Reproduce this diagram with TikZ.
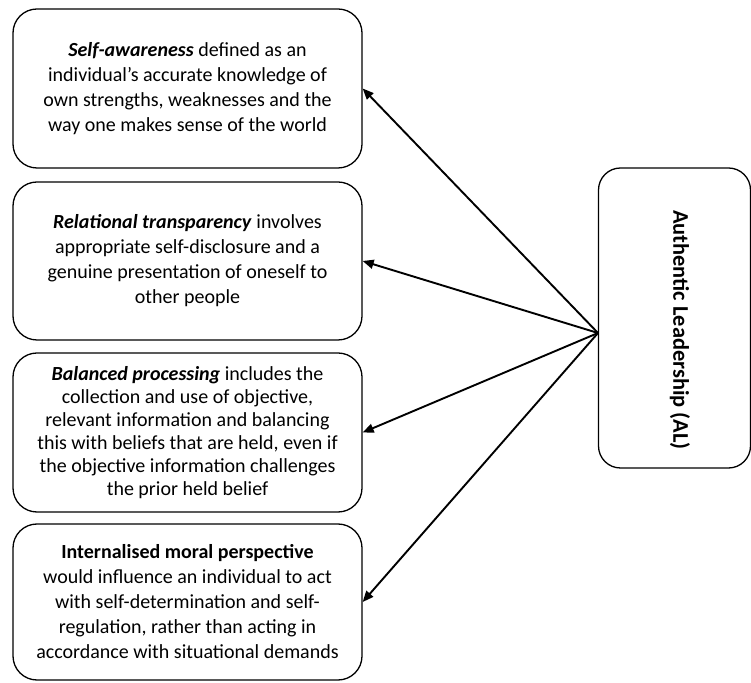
\documentclass[tikz,border=0pt]{standalone}
\usepackage{fontspec}
\setmainfont{Carlito}
\usetikzlibrary{arrows.meta}
\begin{document}
\begin{tikzpicture}[x=1pt,y=1pt,
  defbox/.style={draw, line width=1.3pt, rounded corners=24pt, minimum width=349pt, inner sep=0pt, align=center, font=\fontsize{20}{25}\selectfont},
  link/.style={line width=1.9pt, -{Triangle[length=11pt,width=9pt]}}]
\useasboundingbox (0,0) rectangle (751,682);
\node[defbox, minimum height=159pt] (b1) at (187.5,593.5) {\textbf{\textit{Self-awareness}} defined as an\\individual’s accurate knowledge of\\own strengths, weaknesses and the\\way one makes sense of the world};
\node[defbox, minimum height=158pt] (b2) at (187.5,421) {\textbf{\textit{Relational transparency}} involves\\appropriate self-disclosure and a\\genuine presentation of oneself to\\other people};
\node[defbox, minimum height=159pt, font=\fontsize{20}{23}\selectfont] (b3) at (187.5,249.5) {\textbf{\textit{Balanced processing}} includes the\\collection and use of objective,\\relevant information and balancing\\this with beliefs that are held, even if\\the objective information challenges\\the prior held belief};
\node[defbox, minimum height=156pt] (b4) at (187.5,80) {\textbf{Internalised moral perspective}\\would influence an individual to act\\with self-determination and self-\\regulation, rather than acting in\\accordance with situational demands};
\node[draw, line width=1.3pt, rounded corners=22pt, minimum width=152pt, minimum height=300pt, inner sep=0pt] (al) at (674.5,364) {};
\node[rotate=-90, font=\fontsize{22.4}{26}\selectfont\bfseries] (altext) at (680,352) {Authentic Leadership (AL)};
\coordinate (hub) at (598,349);
\draw[link] (hub) -- (b1.east);
\draw[link] (hub) -- (b2.east);
\draw[link] (hub) -- (b3.east);
\draw[link] (hub) -- (b4.east);
\end{tikzpicture}
\end{document}
